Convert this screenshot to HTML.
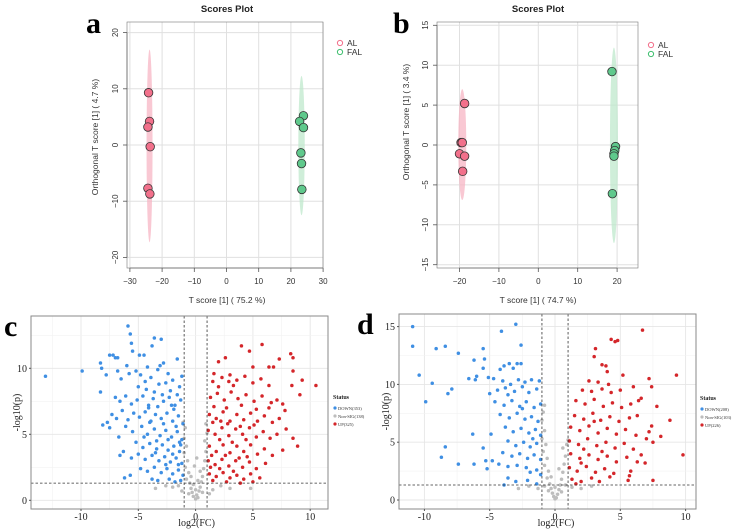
<!DOCTYPE html>
<html><head><meta charset="utf-8"><style>
html,body{margin:0;padding:0;background:#fff}
svg{display:block}
.sans{font-family:"Liberation Sans",sans-serif}
.serif{font-family:"Liberation Serif",serif}
</style></head><body>
<svg id="fig" width="741" height="530" viewBox="0 0 741 530" xmlns="http://www.w3.org/2000/svg"></svg>
<script>
// ---- Panel a data ----
const aALx=[-24.2,-23.9,-24.4,-23.7,-24.4,-23.8];
const aALy=[9.3,4.2,3.2,-0.3,-7.7,-8.7];
const aFALx=[23.9,22.7,23.9,23.1,23.3,23.4];
const aFALy=[5.2,4.2,3.1,-1.4,-3.3,-7.9];
const aXTicks=[-30,-20,-10,0,10,20,30];
const aYTicks=[-20,-10,0,10,20];
// ---- Panel b data ----
const bALx=[-18.7,-19.6,-19.3,-20.0,-18.7,-19.2];
const bALy=[5.2,0.3,0.3,-1.1,-1.4,-3.3];
const bFALx=[18.7,19.6,19.4,19.2,19.2,18.8];
const bFALy=[9.2,-0.2,-0.7,-1.1,-1.4,-6.1];
const bXTicks=[-20,-10,0,10,20];
const bYTicks=[-15,-10,-5,0,5,10,15];
// ---- Panel c data (x,y pairs) ----
const cDown=[-13.1,9.4,-9.9,9.8,-8.3,10.4,-8.2,10,-8.3,8.2,-8.1,5.7,-7.8,9.5,-7.5,11,-7.2,11,-7,10.8,-6.8,10.8,-7.7,5.9,-7.5,5.5,-6.7,4.8,-6.6,3.4,-6.3,3.7,-6.2,1.7,-5.7,1.9,-5.9,13.2,-5.7,12.6,-5.6,11.9,-5.5,11.3,-4.9,11,-4.5,11,-3.8,11.7,-3.6,12.3,-3,12.2,-1.6,10.7,-2.8,10.4,-3.3,9.9,
-6.8,9.8,-6.5,9.2,-6.0,10.2,-5.8,9.6,-5.2,9.8,-4.8,9.5,-4.4,9.0,-3.9,9.3,-3.2,8.8,-2.6,8.9,-2.0,9.1,-1.4,8.6,
-7.0,7.8,-6.6,7.5,-6.1,7.9,-5.6,7.3,-5.1,7.6,-4.6,7.9,-4.1,7.2,-3.7,7.7,-3.3,7.1,-2.8,7.5,-2.3,7.8,-1.8,7.2,-1.3,7.6,
-7.3,6.5,-6.9,6.2,-6.4,6.8,-5.9,6.1,-5.4,6.6,-4.9,6.3,-4.4,6.7,-3.9,6.0,-3.5,6.5,-3.0,6.2,-2.5,6.6,-2.0,6.0,-1.5,6.4,-1.1,5.8,
-6.1,5.6,-5.5,5.2,-4.7,5.6,-4.2,5.0,-3.6,5.4,-3.1,4.9,-2.6,5.3,-2.1,4.8,-1.6,5.2,-1.2,4.6,
-5.2,4.4,-4.6,4.0,-4.0,4.3,-3.4,3.9,-2.9,4.2,-2.4,3.8,-1.9,4.1,-1.4,3.7,
-5.6,3.2,-5.0,3.5,-4.4,3.1,-3.8,3.4,-3.2,3.0,-2.7,3.3,-2.2,2.9,-1.7,3.2,-1.2,2.8,
-4.8,2.4,-4.2,2.2,-3.6,2.5,-3.0,2.1,-2.5,2.4,-2.0,2.0,-1.5,2.3,-1.1,1.9,
-3.8,1.6,-3.3,1.5,-2.3,1.6,-1.8,1.4,-1.3,1.5,
-4.3,8.4,-3.6,8.2,-2.9,8.0,-2.2,8.3,-1.6,8.0,-5.0,8.6,-4.0,5.9,-2.8,5.8,-1.9,6.9,-3.4,4.5,-2.4,4.6,-1.3,4.2,-4.1,7.0,-2.0,3.5,-1.5,2.7,
-3.1,10.2,-4.2,10.1,-2.4,9.6,-1.2,9.4,-3.5,3.6,-2.6,2.7,-1.7,5.6,-4.5,4.8,-2.1,7.2,-1.4,4.4];
const cUp=[10.5,8.7,9.3,9.1,9.1,8.0,8.5,10.8,8.3,11.1,8.5,9.8,8.4,8.7,8.5,4.7,8.9,4.1,7.9,5.4,7.6,3.8,7.6,7.3,7.8,6.8,7.3,10.7,6.8,10.1,6.4,10.1,5.8,11.8,5.0,10.1,4.7,11.3,4.0,11.7,2.6,10.8,2.0,10.5,1.6,9.6,7.1,7.6,6.4,7.0,
1.5,9.0,2.3,9.3,3.0,9.5,3.6,9.1,4.3,9.4,5.0,8.9,5.7,9.2,6.4,8.7,
1.3,7.8,1.9,8.1,2.5,7.6,3.1,8.2,3.7,7.7,4.4,8.0,5.1,7.5,5.8,7.9,6.6,7.4,
1.2,6.5,1.8,6.2,2.4,6.7,3.0,6.0,3.6,6.5,4.2,6.1,4.8,6.6,5.4,6.0,6.0,6.4,6.7,5.9,7.3,6.2,
1.1,5.3,1.7,5.0,2.3,5.5,2.9,4.9,3.5,5.4,4.1,5.0,4.7,5.5,5.3,4.8,5.9,5.2,6.5,4.7,7.1,5.0,
1.2,4.1,1.8,3.7,2.4,4.2,3.0,3.6,3.6,4.1,4.2,3.7,4.8,4.2,5.4,3.5,6.0,3.9,6.7,3.4,
1.1,3.0,1.7,2.7,2.3,3.1,2.9,2.6,3.5,3.0,4.1,2.5,4.7,2.9,5.3,2.4,6.1,2.8,
1.2,2.0,1.8,1.8,2.4,2.1,3.0,1.7,3.6,1.9,4.2,1.6,4.8,2.0,5.6,1.7,1.5,1.5,2.7,1.4,3.9,1.3,5.0,1.4,
2.0,8.6,3.3,8.7,2.7,7.0,4.0,7.2,1.6,7.1,5.3,6.9,2.1,4.6,3.2,4.4,4.4,4.6,1.4,3.4,2.6,3.4,3.8,3.2,
2.8,5.8,3.9,5.6,1.5,5.9,2.1,2.4,3.3,2.2,4.5,3.3,5.1,5.7,2.9,9.0,1.3,2.5,2.2,6.0];
const cNs=[-1.1,5.9,-0.9,5.5,-1.0,4.7,-0.8,4.1,-1.0,3.6,-0.7,3.0,-0.9,2.5,-0.6,2.1,-0.8,1.6,-0.5,1.3,-0.4,0.9,-0.3,0.6,-0.2,0.3,0,0.1,0.1,0.4,0.2,0.2,0.3,0.7,0.4,1.0,0.5,1.4,0.6,1.8,0.7,2.4,0.8,3.0,0.9,3.7,0.8,4.5,1.0,5.1,0.9,5.8,-1.5,1.1,-2.0,1.0,-2.6,1.1,-3.5,0.9,1.5,0.8,2.2,1.1,3.0,0.9,4.8,0.9,-0.6,0.5,0.6,0.6,-0.2,1.2,0.2,1.5,-0.4,1.8,0.4,2.2,-1.2,0.7,1.2,0.5,0,0.8,-0.1,2.6,0.1,3.2];
const cXTicks=[-10,-5,0,5,10];
const cYTicks=[0,5,10];
// ---- Panel d data ----
const dDown=[-10.9,15,-10.9,13.3,-10.4,10.8,-9.9,8.5,-9.4,10.1,-9.1,13.1,-8.4,13.3,-8.2,9.2,-7.9,9.6,-8.7,3.7,-8.4,4.6,-7.4,12.7,-7.4,3.1,-6.6,10.5,-6.2,12.1,-6.1,10.4,-6.0,10.7,-6.3,5.7,-6.2,3.1,-5.5,13.1,-5.4,12.2,-5.5,4.5,-5.3,3.4,-5.2,2.7,-4.8,3.4,-4.9,5.7,-4.1,14.6,-3.0,15.2,-2.6,13.4,-5.1,10.6,-5.5,11.4,
-4.2,11.3,-3.5,11.8,-2.9,11.8,-2.6,11.8,-3.9,11.6,-3.2,11.4,
-4.7,10.5,-4.0,10.3,-3.4,10.0,-2.8,10.4,-2.3,10.2,-1.8,10.4,-1.2,10.3,
-5.0,9.2,-4.4,9.5,-3.8,9.7,-3.1,9.4,-2.5,9.8,-2.0,9.3,-1.4,9.6,
-4.6,8.5,-3.9,8.2,-3.3,8.6,-2.7,8.1,-2.2,8.5,-1.6,8.0,-1.1,8.3,
-4.2,7.4,-3.5,7.1,-2.9,7.5,-2.3,7.0,-1.8,7.2,-1.3,6.8,
-3.8,6.3,-3.2,5.9,-2.6,6.2,-2.0,5.8,-1.5,6.1,-1.1,5.6,
-3.6,5.1,-3.0,4.7,-2.4,5.0,-1.9,4.6,-1.4,4.9,
-4.0,4.1,-3.3,3.8,-2.7,4.0,-2.1,3.6,-1.6,3.9,-1.1,3.5,
-4.3,3.1,-3.6,2.9,-2.9,3.0,-2.2,2.8,-1.4,2.6,-1.1,2.2,
-3.6,1.9,-3.0,1.6,-2.1,1.7,-1.4,1.4,-3.9,1.3,-1.9,2.4,-2.5,7.9,-3.6,9.1,-1.7,5.3];
const dUp=[9.8,3.9,9.3,10.8,8.8,6.9,8.1,5.5,7.8,8.1,7.5,5.0,7.4,6.4,7.4,9.8,7.2,10.5,7.2,5.9,7.0,5.3,6.9,3.2,6.7,14.7,7.5,1.7,6.6,3.9,6.6,8.8,6.4,8.6,6.0,9.8,6.3,3.3,5.8,2.5,5.6,1.7,5.7,2.1,5.2,10.8,4.8,13.8,4.6,13.7,4.3,13.9,3.1,13.1,3.0,12.4,3.6,11.7,3.9,11.6,4.0,11.1,
2.6,10.3,3.3,10.2,4.1,10.0,2.1,9.5,2.8,9.4,3.6,9.6,4.3,9.3,5.0,9.5,
1.6,8.6,2.3,8.3,3.0,8.7,3.7,8.1,4.4,8.4,5.1,8.0,5.8,8.3,
1.5,7.3,2.2,7.0,2.9,7.5,3.5,6.9,4.2,7.2,4.9,6.8,5.7,7.1,6.3,7.3,
1.2,6.3,1.9,6.0,2.6,6.4,3.3,5.8,4.0,6.2,4.7,5.7,5.4,6.1,6.2,5.6,
1.1,5.1,1.8,4.8,2.5,5.3,3.2,4.7,3.9,5.0,4.6,4.5,5.3,4.9,6.0,4.4,
1.2,4.0,1.9,3.6,2.6,3.9,3.3,3.5,4.0,3.8,4.7,3.3,5.5,3.7,
1.1,2.8,1.7,2.5,2.4,2.9,3.1,2.4,3.8,2.7,4.5,2.3,
1.3,1.8,2.0,1.6,2.8,1.9,3.4,1.6,1.6,1.4,4.2,2.0,2.2,4.4,3.6,4.2,2.0,3.2,3.0,6.8];
const dNs=[-0.8,8.2,-0.9,7.6,-1.0,6.9,-0.8,6.0,-1.0,5.3,-0.7,4.8,-0.9,4.2,-0.6,3.6,-0.8,3.0,-0.5,2.5,-0.6,1.9,-0.4,1.4,-0.3,1.0,-0.2,0.6,-0.1,0.3,0,0.1,0.1,0.2,0.2,0.5,0.3,0.9,0.4,1.3,0.5,1.8,0.6,2.4,0.7,3.1,0.8,3.8,0.6,4.5,0.9,4.8,1.0,5.2,-1.3,1.0,-2.0,1.2,-2.8,1.0,1.3,1.1,2.0,1.0,2.8,1.2,-0.5,0.8,0.5,0.7,0,1.1,-0.3,2.0,0.3,2.7,-0.8,1.2,0.8,1.3];
const dXTicks=[-10,-5,0,5,10];
const dYTicks=[0,5,10,15];

const NS="http://www.w3.org/2000/svg";
const svg=document.getElementById('fig');
function mk(tag,attrs,parent,text){const e=document.createElementNS(NS,tag);for(const k in attrs)e.setAttribute(k,attrs[k]);if(text!==undefined)e.textContent=text;(parent||svg).appendChild(e);return e;}
function lin(d0,d1,r0,r1){return v=>r0+(v-d0)*(r1-r0)/(d1-d0);}

function scores(o){
  const g=mk('g',{});
  
  
  const sx=lin(0,10,o.x0,o.x0+o.px10), sy=lin(0,10,o.y0,o.y0-o.py10);
  const t=mk('text',{x:o.tx,y:12,'text-anchor':'middle','font-size':'9.5','font-weight':'bold',class:'sans',fill:'#222'},g,'Scores Plot');
  
  
  // grid
  o.xt.forEach(v=>{const l=mk('line',{x1:sx(v),x2:sx(v),y1:o.top,y2:o.bot,stroke:'#e0e0e0','stroke-width':1},g);
    
    });
  o.yt.forEach(v=>{const l=mk('line',{x1:o.left,x2:o.right,y1:sy(v),y2:sy(v),stroke:'#e0e0e0','stroke-width':1},g);
    
    });
  // ellipses
  const e1=mk('ellipse',{cx:sx(o.e1[0]),cy:sy((o.e1[1]+o.e1[2])/2),rx:o.e1[3],ry:Math.abs(sy(o.e1[1])-sy(o.e1[2]))/2,fill:'#f7b6c4','fill-opacity':0.75},g);
  
  
  const e2=mk('ellipse',{cx:sx(o.e2[0]),cy:sy((o.e2[1]+o.e2[2])/2),rx:o.e2[3],ry:Math.abs(sy(o.e2[1])-sy(o.e2[2]))/2,fill:'#bfe8cc','fill-opacity':0.75},g);
  
  
  // points
  o.alx.forEach((v,i)=>{const c=mk('circle',{cx:sx(v),cy:sy(o.aly[i]),r:4.3,fill:'#f2708b',stroke:'#333','stroke-width':0.8},g);
    
    });
  o.fx.forEach((v,i)=>{const c=mk('circle',{cx:sx(v),cy:sy(o.fy[i]),r:4.3,fill:'#5fc98c',stroke:'#333','stroke-width':0.8},g);
    
    });
  // axes
  const ax=mk('path',{d:`M${o.left} ${sy(o.yt[o.yt.length-1])}V${sy(o.yt[0])}M${sx(o.xt[0])} ${o.bot}H${sx(o.xt[o.xt.length-1])}`,stroke:'#555',fill:'none','stroke-width':0.8},g);
  
  
  const fr=mk('rect',{x:o.left,y:o.top,width:o.right-o.left,height:o.bot-o.top,fill:'none',stroke:'#777','stroke-width':0.6},g);
  
  
  o.xt.forEach(v=>{mk('line',{x1:sx(v),x2:sx(v),y1:o.bot,y2:o.bot+4,stroke:'#555','stroke-width':0.8},g);
    const tl=mk('text',{x:sx(v),y:o.bot+16,'text-anchor':'middle','font-size':'8',class:'sans',fill:'#333'},g,v===0?'0':(v<0?'\u2212'+(-v):''+v));
    
    });
  o.yt.forEach(v=>{mk('line',{x1:o.left-4,x2:o.left,y1:sy(v),y2:sy(v),stroke:'#555','stroke-width':0.8},g);
    const tl=mk('text',{x:o.left-9,y:sy(v),'text-anchor':'middle','font-size':'8',class:'sans',fill:'#333',transform:`rotate(-90 ${o.left-9} ${sy(v)})`},g,v===0?'0':(v<0?'\u2212'+(-v):''+v));
    
    });
  const xt=mk('text',{x:o.tx,y:303,'text-anchor':'middle','font-size':'8.5',class:'sans',fill:'#333'},g,o.xlab);
  
  
  const ym=(o.top+o.bot)/2-o.ylabOff;
  const yt=mk('text',{x:o.yx,y:ym,'text-anchor':'middle','font-size':'8.5',class:'sans',fill:'#333',transform:`rotate(-90 ${o.yx} ${ym})`},g,o.ylab);
  
  
  // legend
  const l1=mk('g',{},g);
  
  
  mk('circle',{cx:o.lx,cy:o.ly,r:2.6,fill:'none',stroke:'#f2708b','stroke-width':1},l1);
  mk('text',{x:o.lx+7,y:o.ly+3,'font-size':'8.5',class:'sans',fill:'#333'},l1,'AL');
  const l2=mk('g',{},g);
  
  
  mk('circle',{cx:o.lx,cy:o.ly+9,r:2.6,fill:'none',stroke:'#3fbf6f','stroke-width':1},l2);
  mk('text',{x:o.lx+7,y:o.ly+12,'font-size':'8.5',class:'sans',fill:'#333'},l2,'FAL');
  const pl=mk('text',{x:o.plx,y:33,'font-size':'30','font-weight':'bold',class:'serif',fill:'#000'},g,o.pl);
  
  
}
scores({name:'panel-a-scores-plot',x0:226.5,px10:32.2,y0:145,py10:56.2,left:127,right:323,top:22,bot:268,tx:227,
  xt:aXTicks,yt:aYTicks,alx:aALx,aly:aALy,fx:aFALx,fy:aFALy,e1:[-23.9,17,-17.3,3],e2:[23.3,12.3,-12.5,3.2],
  xlab:'T score [1] ( 75.2 %)',ylab:'Orthogonal T score [1] ( 4.7 %)',yx:98,ylabOff:8,lx:340,ly:43,plx:86,pl:'a'});
scores({name:'panel-b-scores-plot',x0:538.3,px10:39.4,y0:145,py10:79.8,left:437,right:638,top:22,bot:268,tx:538,
  xt:bXTicks,yt:bYTicks,alx:bALx,aly:bALy,fx:bFALx,fy:bFALy,e1:[-19.3,7,-6.9,4],e2:[19.2,12.2,-12.3,4],
  xlab:'T score [1] ( 74.7 %)',ylab:'Orthogonal T score [1] ( 3.4 %)',yx:409,ylabOff:23,lx:651,ly:45,plx:393,pl:'b'});

function volcano(o){
  const g=mk('g',{});
  
  
  const sx=lin(0,5,o.x0,o.x0+o.px5), sy=lin(0,5,o.y0,o.y0-o.py5);
  const bg=mk('rect',{x:o.left,y:o.top,width:o.right-o.left,height:o.bot-o.top,fill:'#fff'},g);
  
  
  // minor + major grid
  for(let v=o.xmin;v<=o.xmax;v+=2.5){const X=sx(v);if(X<o.left||X>o.right)continue;
    const l=mk('line',{x1:X,x2:X,y1:o.top,y2:o.bot,stroke:(v%5===0)?'#e6e6e6':'#f2f2f2','stroke-width':(v%5===0)?0.9:0.6},g);
    
    }
  for(let v=0;v<=o.ymax;v+=2.5){const Y=sy(v);if(Y<o.top)continue;
    const l=mk('line',{x1:o.left,x2:o.right,y1:Y,y2:Y,stroke:(v%5===0)?'#e6e6e6':'#f2f2f2','stroke-width':(v%5===0)?0.9:0.6},g);
    
    }
  function pts(arr,col,nm){for(let i=0;i<arr.length;i+=2){const c=mk('circle',{cx:sx(arr[i]),cy:sy(arr[i+1]),r:1.75,fill:col},g);
    
    }}
  pts(o.ns,'#bdbdbd','nonsig-point');
  pts(o.down,'#3f8fe3','down-point');
  pts(o.up,'#d4262a','up-point');
  [-1,1].forEach(v=>{const l=mk('line',{x1:sx(v),x2:sx(v),y1:o.top,y2:o.bot,stroke:'#333','stroke-width':0.8,'stroke-dasharray':'2.5,2'},g);
    
    });
  const h=mk('line',{x1:o.left,x2:o.right,y1:sy(1.3),y2:sy(1.3),stroke:'#333','stroke-width':0.8,'stroke-dasharray':'2.5,2'},g);
  
  
  const fr=mk('rect',{x:o.left,y:o.top,width:o.right-o.left,height:o.bot-o.top,fill:'none',stroke:'#8a8a8a','stroke-width':1},g);
  
  
  o.xt.forEach(v=>{mk('line',{x1:sx(v),x2:sx(v),y1:o.bot,y2:o.bot+2,stroke:'#555'},g);
    const tl=mk('text',{x:sx(v),y:o.bot+11,'text-anchor':'middle','font-size':'10',class:'serif',fill:'#222'},g,''+v);
    
    });
  o.yt.forEach(v=>{mk('line',{x1:o.left-2,x2:o.left,y1:sy(v),y2:sy(v),stroke:'#555'},g);
    const tl=mk('text',{x:o.left-4,y:sy(v)+3.5,'text-anchor':'end','font-size':'10',class:'serif',fill:'#222'},g,''+v);
    
    });
  const xt=mk('text',{x:sx(0)+1,y:o.bot+17,'text-anchor':'middle','font-size':'10',class:'serif',fill:'#222'},g,'log2(FC)');
  
  
  const ym=(o.top+o.bot)/2;
  const yt=mk('text',{x:o.yx,y:ym,'text-anchor':'middle','font-size':'10',class:'serif',fill:'#222',transform:`rotate(-90 ${o.yx} ${ym})`},g,'-log10(p)');
  
  
  const st=mk('text',{x:o.lx,y:o.ly,'font-size':'6','font-weight':'bold',class:'serif',fill:'#222'},g,'Status');
  
  
  o.leg.forEach((s,i)=>{const le=mk('g',{},g);
    
    
    mk('circle',{cx:o.lx+2,cy:o.ly+9+i*8,r:1.6,fill:['#3f8fe3','#bdbdbd','#d4262a'][i]},le);
    mk('text',{x:o.lx+5,y:o.ly+11+i*8,'font-size':'4.5',class:'serif',fill:'#333'},le,s);});
  const pl=mk('text',{x:o.plx,y:o.ply,'font-size':'30','font-weight':'bold',class:'serif',fill:'#000'},g,o.pl);
  
  
}
volcano({name:'panel-c-volcano-plot',x0:195.6,px5:57.3,y0:500.3,py5:66,left:31,right:328,top:316,bot:509,xmin:-15,xmax:12.5,ymax:14,
  down:cDown,up:cUp,ns:cNs,xt:cXTicks,yt:cYTicks,yx:20,lx:333,ly:399,leg:['DOWN(353)','Non-SIG(138)','UP(325)'],plx:4,ply:336,pl:'c'});
volcano({name:'panel-d-volcano-plot',x0:555,px5:65.3,y0:500,py5:57.8,left:399,right:696,top:314,bot:509,xmin:-12.5,xmax:10,ymax:16,
  down:dDown,up:dUp,ns:dNs,xt:dXTicks,yt:dYTicks,yx:389,lx:700,ly:400,leg:['DOWN(208)','Non-SIG(103)','UP(226)'],plx:357,ply:334,pl:'d'});
</script>
</body></html>
